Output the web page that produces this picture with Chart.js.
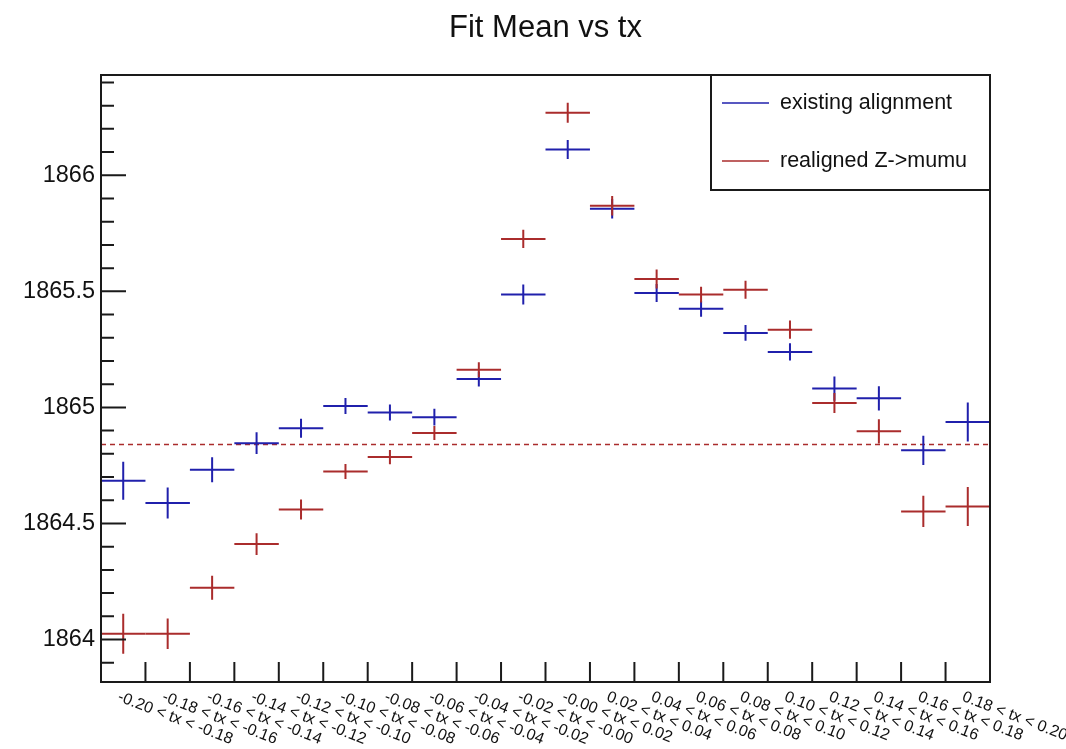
<!DOCTYPE html>
<html>
<head>
<meta charset="utf-8">
<script src="https://cdn.jsdelivr.net/npm/chart.js@4"></script>
<style>
  html, body { margin: 0; padding: 0; background: #fff; }
  #wrap { width: 1066px; height: 749px; position: relative; }
</style>
</head>
<body>
<div id="wrap"><canvas id="fitChart" width="1066" height="749"></canvas></div>
<script>
var binEdges = [-0.20, -0.18, -0.16, -0.14, -0.12, -0.10, -0.08, -0.06, -0.04, -0.02, 0.00,
  0.02, 0.04, 0.06, 0.08, 0.10, 0.12, 0.14, 0.16, 0.18, 0.20];

var binLabels = [
  "-0.20 < tx < -0.18", "-0.18 < tx < -0.16", "-0.16 < tx < -0.14", "-0.14 < tx < -0.12",
  "-0.12 < tx < -0.10", "-0.10 < tx < -0.08", "-0.08 < tx < -0.06", "-0.06 < tx < -0.04",
  "-0.04 < tx < -0.02", "-0.02 < tx < -0.00", "-0.00 < tx < 0.02", "0.02 < tx < 0.04",
  "0.04 < tx < 0.06", "0.06 < tx < 0.08", "0.08 < tx < 0.10", "0.10 < tx < 0.12",
  "0.12 < tx < 0.14", "0.14 < tx < 0.16", "0.16 < tx < 0.18", "0.18 < tx < 0.20"
];

var existingMean = [1864.684, 1864.588, 1864.731, 1864.846, 1864.910, 1865.006, 1864.978, 1864.958,
  1865.122, 1865.486, 1866.111, 1865.856, 1865.493, 1865.425, 1865.321, 1865.239,
  1865.081, 1865.039, 1864.815, 1864.937];
var existingErr = [0.082, 0.067, 0.054, 0.047, 0.041, 0.034, 0.034, 0.036, 0.032, 0.043,
  0.041, 0.042, 0.039, 0.034, 0.034, 0.037, 0.052, 0.052, 0.063, 0.084];

var realignedMean = [1864.025, 1864.025, 1864.223, 1864.411, 1864.560, 1864.724, 1864.786, 1864.890,
  1865.162, 1865.726, 1866.269, 1865.869, 1865.553, 1865.486, 1865.507, 1865.335,
  1865.019, 1864.897, 1864.552, 1864.573];
var realignedErr = [0.086, 0.066, 0.052, 0.047, 0.043, 0.032, 0.031, 0.030, 0.032, 0.039,
  0.043, 0.042, 0.041, 0.034, 0.039, 0.039, 0.043, 0.052, 0.067, 0.084];

var refLevel = 1864.84;
var yMin = 1863.817;
var yMax = 1866.432;

var blue = "#2020ac";
var red = "#aa2c2c";
var font = "'Liberation Sans', Arial, Helvetica, sans-serif";

function toPoints(means, errs) {
  var pts = [];
  for (var i = 0; i < means.length; i++) {
    pts.push({
      x: (binEdges[i] + binEdges[i + 1]) / 2,
      y: means[i],
      xlo: binEdges[i],
      xhi: binEdges[i + 1],
      err: errs[i]
    });
  }
  return pts;
}

// histogram-style crosses: bin width horizontally, error vertically
var errorBars = {
  id: 'errorBars',
  afterDatasetsDraw: function(chart) {
    var ctx = chart.ctx;
    var xs = chart.scales.x, ys = chart.scales.y;
    ctx.save();
    chart.data.datasets.forEach(function(ds) {
      if (!ds.crosses) return;
      ctx.strokeStyle = ds.borderColor;
      ctx.lineWidth = 2;
      ds.data.forEach(function(p) {
        var cx = xs.getPixelForValue(p.x);
        var cy = ys.getPixelForValue(p.y);
        ctx.beginPath();
        ctx.moveTo(xs.getPixelForValue(p.xlo), cy);
        ctx.lineTo(xs.getPixelForValue(p.xhi), cy);
        ctx.moveTo(cx, ys.getPixelForValue(p.y - p.err));
        ctx.lineTo(cx, ys.getPixelForValue(p.y + p.err));
        ctx.stroke();
      });
    });
    ctx.restore();
  }
};

// frame, inward ticks, slanted bin labels, title and legend box
var frame = {
  id: 'frame',
  afterDraw: function(chart) {
    var ctx = chart.ctx;
    var a = chart.chartArea;
    var xs = chart.scales.x, ys = chart.scales.y;
    ctx.save();
    ctx.strokeStyle = "#1a1a1a";
    ctx.lineWidth = 2;
    ctx.strokeRect(a.left, a.top, a.right - a.left, a.bottom - a.top);

    ctx.beginPath();
    ys.ticks.forEach(function(t) {
      var py = ys.getPixelForValue(t.value);
      var major = Math.abs(t.value * 2 - Math.round(t.value * 2)) < 1e-6;
      ctx.moveTo(a.left, py);
      ctx.lineTo(a.left + (major ? 25 : 13), py);
    });
    for (var i = 1; i < binEdges.length - 1; i++) {
      var px = xs.getPixelForValue(binEdges[i]);
      ctx.moveTo(px, a.bottom);
      ctx.lineTo(px, a.bottom - 20);
    }
    ctx.stroke();

    ctx.fillStyle = "#111";
    ctx.font = "16px " + font;
    ctx.textAlign = "left";
    ctx.textBaseline = "top";
    binLabels.forEach(function(lbl, i) {
      var px = xs.getPixelForValue((binEdges[i] + binEdges[i + 1]) / 2);
      ctx.save();
      ctx.translate(px - 2, a.bottom + 7);
      ctx.rotate(21 * Math.PI / 180);
      ctx.fillText(lbl, 0, 0);
      ctx.restore();
    });

    ctx.font = "31px " + font;
    ctx.textAlign = "center";
    ctx.textBaseline = "alphabetic";
    ctx.fillText("Fit Mean vs tx", (a.left + a.right) / 2, 37);

    // legend
    var lx = 711, ly = a.top, lw = a.right - 711, lh = 115;
    ctx.fillStyle = "#fff";
    ctx.fillRect(lx, ly, lw, lh);
    ctx.strokeRect(lx, ly, lw, lh);
    ctx.font = "21.5px " + font;
    ctx.textAlign = "left";
    ctx.textBaseline = "middle";
    var rows = chart.data.datasets.filter(function(ds) { return ds.crosses; });
    rows.forEach(function(ds, k) {
      var ry = ly + 28 + k * 58;
      ctx.strokeStyle = ds.borderColor;
      ctx.lineWidth = 1.5;
      ctx.beginPath();
      ctx.moveTo(lx + 11, ry);
      ctx.lineTo(lx + 58, ry);
      ctx.stroke();
      ctx.fillStyle = "#111";
      ctx.fillText(ds.label, lx + 69, ry);
    });
    ctx.restore();
  }
};

var ctx = document.getElementById("fitChart").getContext("2d");
var chart = new Chart(ctx, {
  type: 'scatter',
  data: {
    datasets: [
      {
        label: "existing alignment",
        data: toPoints(existingMean, existingErr),
        borderColor: blue,
        backgroundColor: blue,
        pointRadius: 0,
        crosses: true
      },
      {
        label: "realigned Z->mumu",
        data: toPoints(realignedMean, realignedErr),
        borderColor: red,
        backgroundColor: red,
        pointRadius: 0,
        crosses: true
      },
      {
        label: "mean",
        data: [{ x: binEdges[0], y: refLevel }, { x: binEdges[binEdges.length - 1], y: refLevel }],
        showLine: true,
        borderColor: red,
        borderWidth: 1.6,
        borderDash: [5, 4],
        pointRadius: 0
      }
    ]
  },
  options: {
    responsive: false,
    animation: false,
    events: [],
    layout: { padding: { left: 0, top: 75, right: 76, bottom: 67 } },
    plugins: {
      legend: { display: false },
      title: { display: false },
      tooltip: { enabled: false }
    },
    scales: {
      x: {
        type: 'linear',
        display: false,
        min: binEdges[0],
        max: binEdges[binEdges.length - 1]
      },
      y: {
        type: 'linear',
        min: yMin,
        max: yMax,
        afterFit: function(scale) { scale.width = 101; },
        grid: { display: false, drawTicks: false },
        border: { display: false },
        ticks: {
          stepSize: 0.1,
          includeBounds: false,
          autoSkip: false,
          padding: 6,
          color: "#111",
          font: { family: font, size: 23.5 },
          callback: function(v) {
            if (Math.abs(v * 2 - Math.round(v * 2)) > 1e-6) return "";
            return String(Math.round(v * 2) / 2);
          }
        }
      }
    }
  },
  plugins: [errorBars, frame]
});
</script>
</body>
</html>
